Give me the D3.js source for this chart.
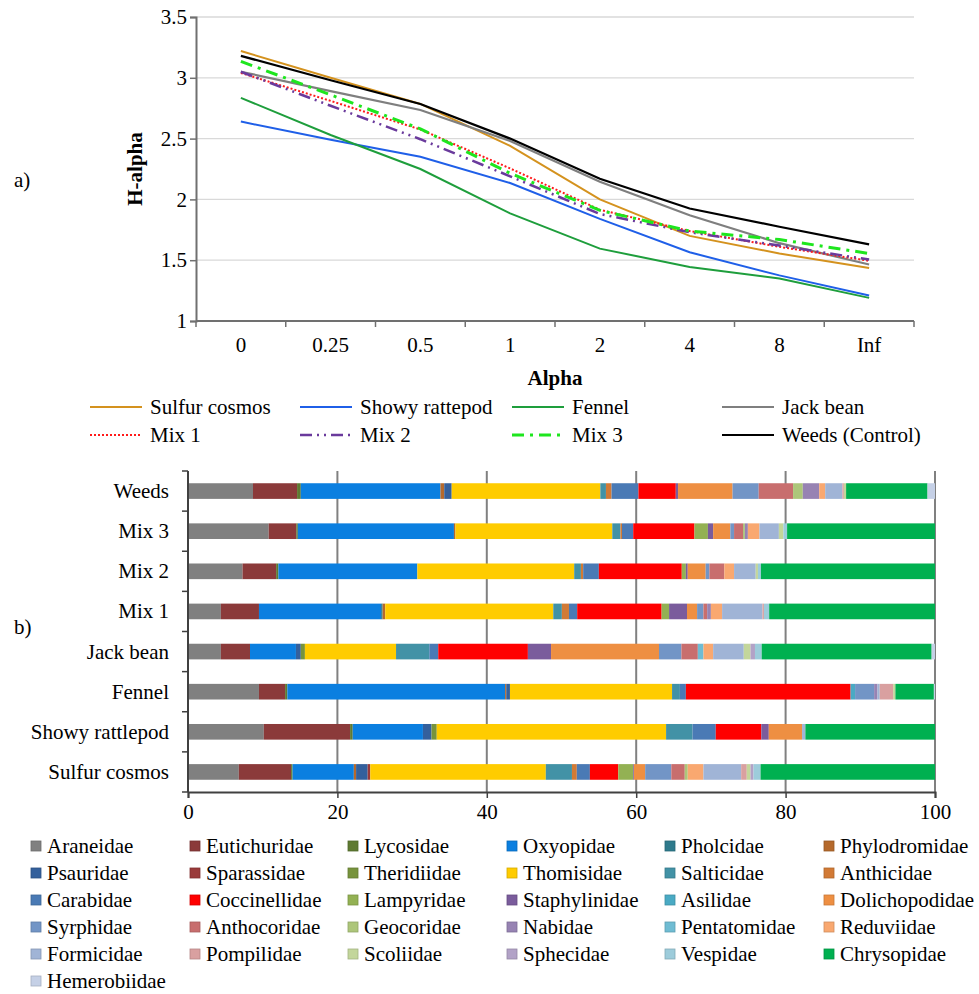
<!DOCTYPE html>
<html>
<head>
<meta charset="utf-8">
<script src="https://cdn.jsdelivr.net/npm/d3@7"></script>
<style>
  body { margin: 0; background: #fff; }
  text { font-family: "Liberation Serif", "Times New Roman", serif; fill: #000; }
</style>
</head>
<body>
<div id="chart"></div>
<script>
// ---------- a) H-alpha profiles ----------
var alphaLabels = ["0", "0.25", "0.5", "1", "2", "4", "8", "Inf"];
var sulfurCosmos   = [3.22, 3.00, 2.785, 2.44, 2.00, 1.70, 1.555, 1.435];
var showyRattepod  = [2.64, 2.49, 2.35, 2.135, 1.84, 1.565, 1.375, 1.21];
var fennel         = [2.835, 2.53, 2.25, 1.885, 1.595, 1.445, 1.35, 1.19];
var jackBean       = [3.05, 2.89, 2.735, 2.48, 2.145, 1.87, 1.64, 1.465];
var mix1           = [3.04, 2.81, 2.575, 2.255, 1.915, 1.74, 1.61, 1.495];
var mix2           = [3.05, 2.77, 2.495, 2.19, 1.88, 1.73, 1.62, 1.505];
var mix3           = [3.135, 2.86, 2.58, 2.215, 1.91, 1.74, 1.67, 1.555];
var weedsControl   = [3.18, 2.98, 2.785, 2.50, 2.17, 1.925, 1.775, 1.63];
var yTicks = [1, 1.5, 2, 2.5, 3, 3.5];

var lineSeries = [
  {name: "Sulfur cosmos", values: sulfurCosmos, color: "#d4921e", width: 2, dash: null},
  {name: "Showy rattepod", values: showyRattepod, color: "#1f5fe8", width: 2, dash: null},
  {name: "Fennel", values: fennel, color: "#1e9e3c", width: 2, dash: null},
  {name: "Jack bean", values: jackBean, color: "#7f7f7f", width: 2.2, dash: null},
  {name: "Mix 1", values: mix1, color: "#ff1a1a", width: 2, dash: "2,2"},
  {name: "Mix 2", values: mix2, color: "#6a3a9c", width: 2.5, dash: "12,5,2,5,2,5"},
  {name: "Mix 3", values: mix3, color: "#1ee61e", width: 3, dash: "12,6,3,6"},
  {name: "Weeds (Control)", values: weedsControl, color: "#000000", width: 2.2, dash: null}
];

// ---------- b) family composition (%) ----------
var families = ["Araneidae","Eutichuridae","Lycosidae","Oxyopidae","Pholcidae","Phylodromidae",
  "Psauridae","Sparassidae","Theridiidae","Thomisidae","Salticidae","Anthicidae",
  "Carabidae","Coccinellidae","Lampyridae","Staphylinidae","Asilidae","Dolichopodidae",
  "Syrphidae","Anthocoridae","Geocoridae","Nabidae","Pentatomidae","Reduviidae",
  "Formicidae","Pompilidae","Scoliidae","Sphecidae","Vespidae","Chrysopidae","Hemerobiidae"];
var familyColors = ["#808080","#8b3a3a","#5f7a32","#0b7fe0","#2e7a8c","#b5692c",
  "#34609c","#9a3a3a","#77933c","#ffcc00","#4292a6","#d27a35",
  "#4a7ab5","#ff0000","#93b153","#7a5c9c","#4aaac4","#ee8f42",
  "#7295c6","#c86e6e","#adc67a","#9783b3","#6fbcd3","#f9a870",
  "#a0b4d6","#d9a0a0","#c3d69b","#b2a2c7","#9dccdb","#00b050","#c5d0e6"];

var treatments = ["Weeds", "Mix 3", "Mix 2", "Mix 1", "Jack bean", "Fennel", "Showy rattlepod", "Sulfur cosmos"];
var pctWeeds   = [8.7,5.9,0.5,18.7,0,0.5,1.0,0,0,19.9,0.75,0.75,3.6,5.0,0,0.3,0,7.3,3.5,4.6,1.3,2.2,0,0.8,2.3,0.2,0.3,0,0,10.9,1.0];
var pctMix3    = [10.8,3.7,0.2,20.9,0,0.2,0,0,0,21.0,1.1,0.2,1.5,8.2,1.8,0.7,0,2.3,0.5,1.2,0.25,0.4,0,1.55,2.6,0,0.6,0,0.5,19.8,0];
var pctMix2    = [7.3,4.5,0.3,18.6,0,0,0,0,0,21.0,0.9,0.3,2.1,11.1,0.55,0.25,0,2.4,0.5,2.0,0,0,0,1.3,2.9,0,0.3,0,0.4,23.3,0];
var pctMix1    = [4.4,5.1,0,16.35,0.2,0.35,0,0,0,22.5,1.15,0.95,1.1,11.3,1.0,2.4,0,1.35,0.85,0.5,0,0.5,0,1.5,5.4,0.2,0,0,0.7,22.2,0];
var pctJack    = [4.4,3.9,0,6.15,0,0,0.65,0,0.55,12.2,4.45,0,1.2,12.0,0,3.1,0,14.45,3.0,2.2,0,0,0.75,1.3,4.1,0,0.9,0.6,0.9,22.75,0.45];
var pctFennel  = [9.5,3.5,0.3,29.15,0,0.15,0.5,0,0,21.7,1.05,0,0.8,22.05,0,0,0.6,0,2.55,0,0,0.45,0,0,0.3,1.8,0.3,0,0,5.15,0.15];
var pctShowy   = [10.15,11.55,0.35,9.4,0,0,1.15,0,0.7,30.7,3.55,0,3.1,6.1,0,1.0,0,4.45,0,0,0,0,0,0,0.45,0,0,0,0,17.35,0];
var pctSulfur  = [6.8,7.0,0.2,8.2,0,0.3,1.55,0.35,0,23.5,3.5,0.65,1.75,3.8,2.0,0.1,0,1.5,3.5,1.8,0.4,0,0,2.1,5.05,0.75,0.5,0.4,0.95,23.35,0];
var pctRows = [pctWeeds, pctMix3, pctMix2, pctMix1, pctJack, pctFennel, pctShowy, pctSulfur];
var xTicksB = [0, 20, 40, 60, 80, 100];

var W = 979, H = 994;
var svg = d3.select("#chart").append("svg")
  .attr("width", W).attr("height", H);

// ================= chart a =================
var xA = d3.scaleBand().domain(alphaLabels).range([196, 914]);
var yA = d3.scaleLinear().domain([1, 3.5]).range([321, 17]);

var gA = svg.append("g");

// gridlines
gA.selectAll(".grid").data(yTicks.slice(1)).enter().append("line")
  .attr("x1", 196).attr("x2", 914)
  .attr("y1", function(d) { return yA(d); }).attr("y2", function(d) { return yA(d); })
  .attr("stroke", "#d9d9d9").attr("stroke-width", 1.3);

// y axis
var yAxisA = d3.axisLeft(yA).tickValues(yTicks).tickSize(6).tickFormat(d3.format("~g"));
var yg = gA.append("g").attr("transform", "translate(196,0)").call(yAxisA);
yg.select(".domain").attr("stroke", "#707070").attr("stroke-width", 2);
yg.selectAll(".tick line").attr("stroke", "#707070").attr("stroke-width", 1.5);
yg.selectAll(".tick text").attr("font-size", 21).attr("x", -9)
  .style("font-family", "Liberation Serif");

// x axis: ticks at band boundaries
var xg = gA.append("g").attr("transform", "translate(0,321)");
xg.append("line").attr("x1", 196).attr("x2", 914).attr("stroke", "#707070").attr("stroke-width", 2);
var bounds = alphaLabels.map(function(d) { return xA(d); }).concat([xA.range()[1]]);
xg.selectAll(".tk").data(bounds).enter().append("line")
  .attr("x1", function(d) { return d; }).attr("x2", function(d) { return d; })
  .attr("y1", 0).attr("y2", 6).attr("stroke", "#707070").attr("stroke-width", 1.5);
xg.selectAll(".lbl").data(alphaLabels).enter().append("text")
  .attr("x", function(d) { return xA(d) + xA.bandwidth() / 2; })
  .attr("y", 31).attr("text-anchor", "middle").attr("font-size", 21)
  .text(function(d) { return d; });

// lines
var line = d3.line()
  .x(function(d, i) { return xA(alphaLabels[i]) + xA.bandwidth() / 2; })
  .y(function(d) { return yA(d); });

gA.selectAll(".series").data(lineSeries).enter().append("path")
  .attr("fill", "none")
  .attr("stroke", function(d) { return d.color; })
  .attr("stroke-width", function(d) { return d.width; })
  .attr("stroke-dasharray", function(d) { return d.dash; })
  .attr("d", function(d) { return line(d.values); });

// axis titles
gA.append("text").attr("x", 555).attr("y", 385).attr("text-anchor", "middle")
  .attr("font-size", 21).attr("font-weight", "bold").text("Alpha");
gA.append("text").attr("transform", "translate(142,169) rotate(-90)")
  .attr("text-anchor", "middle").attr("font-size", 21).attr("font-weight", "bold").text("H-alpha");
gA.append("text").attr("x", 14).attr("y", 187).attr("font-size", 21).text("a)");

// legend for a
var legX = [90, 300, 512, 722];
var legY = [407, 435];
var legA = gA.selectAll(".leg").data(lineSeries).enter().append("g")
  .attr("transform", function(d, i) { return "translate(" + legX[i % 4] + "," + legY[Math.floor(i / 4)] + ")"; });
legA.append("line").attr("x1", 0).attr("x2", 52).attr("y1", 0).attr("y2", 0)
  .attr("stroke", function(d) { return d.color; })
  .attr("stroke-width", function(d) { return d.width; })
  .attr("stroke-dasharray", function(d) { return d.dash; });
legA.append("text").attr("x", 60).attr("y", 7).attr("font-size", 21)
  .text(function(d) { return d.name; });

// ================= chart b =================
var xB = d3.scaleLinear().domain([0, 100]).range([188, 935]);
var yB = d3.scaleBand().domain(treatments).range([471, 792]).paddingInner(0.61).paddingOuter(0.305);

var gB = svg.append("g");

// vertical gridlines
gB.selectAll(".vgrid").data(xTicksB.slice(1)).enter().append("line")
  .attr("x1", function(d) { return xB(d); }).attr("x2", function(d) { return xB(d); })
  .attr("y1", 471).attr("y2", 792)
  .attr("stroke", "#808080").attr("stroke-width", 2);

// stacked bars
var stackRows = treatments.map(function(t, ti) {
  var acc = 0;
  return pctRows[ti].map(function(v, fi) {
    var seg = {treatment: t, family: fi, x0: acc, x1: acc + v};
    acc += v;
    return seg;
  }).filter(function(s) { return s.x1 > s.x0; });
});

gB.selectAll(".row").data(stackRows).enter().append("g")
  .selectAll("rect").data(function(d) { return d; }).enter().append("rect")
  .attr("x", function(d) { return xB(d.x0); })
  .attr("width", function(d) { return xB(d.x1) - xB(d.x0); })
  .attr("y", function(d) { return yB(d.treatment); })
  .attr("height", yB.bandwidth())
  .attr("fill", function(d) { return familyColors[d.family]; });

// y axis (categories) with ticks at band boundaries
var gyB = gB.append("g");
gyB.append("line").attr("x1", 188).attr("x2", 188).attr("y1", 471).attr("y2", 792)
  .attr("stroke", "#404040").attr("stroke-width", 2);
var step = yB.step();
var rowBounds = d3.range(treatments.length + 1).map(function(i) { return 471 + i * step; });
gyB.selectAll(".tk").data(rowBounds).enter().append("line")
  .attr("x1", 182).attr("x2", 188)
  .attr("y1", function(d) { return d; }).attr("y2", function(d) { return d; })
  .attr("stroke", "#404040").attr("stroke-width", 1.5);
gyB.selectAll(".lbl").data(treatments).enter().append("text")
  .attr("x", 169).attr("y", function(d) { return yB(d) + yB.bandwidth() / 2 + 7; })
  .attr("text-anchor", "end").attr("font-size", 21)
  .text(function(d) { return d; });

// x axis
var xAxisB = d3.axisBottom(xB).tickValues(xTicksB).tickSize(6);
var gxB = gB.append("g").attr("transform", "translate(0,792)").call(xAxisB);
gxB.select(".domain").attr("stroke", "#404040").attr("stroke-width", 2);
gxB.selectAll(".tick line").attr("stroke", "#404040").attr("stroke-width", 1.5);
gxB.selectAll(".tick text").attr("font-size", 21).attr("y", 12)
  .style("font-family", "Liberation Serif");

gB.append("text").attr("x", 14).attr("y", 634).attr("font-size", 21).text("b)");

// legend for b
var colX = [31, 190, 348, 507, 665, 824];
var legB = gB.selectAll(".legb").data(families).enter().append("g")
  .attr("transform", function(d, i) { return "translate(" + colX[i % 6] + "," + (846 + Math.floor(i / 6) * 27) + ")"; });
legB.append("rect").attr("x", 0).attr("y", -5).attr("width", 10).attr("height", 10)
  .attr("fill", function(d, i) { return familyColors[i]; })
  .attr("stroke", function(d, i) { return d3.color(familyColors[i]).darker(0.5); })
  .attr("stroke-width", 0.8);
legB.append("text").attr("x", 16).attr("y", 7).attr("font-size", 21)
  .text(function(d) { return d; });
</script>
</body>
</html>
